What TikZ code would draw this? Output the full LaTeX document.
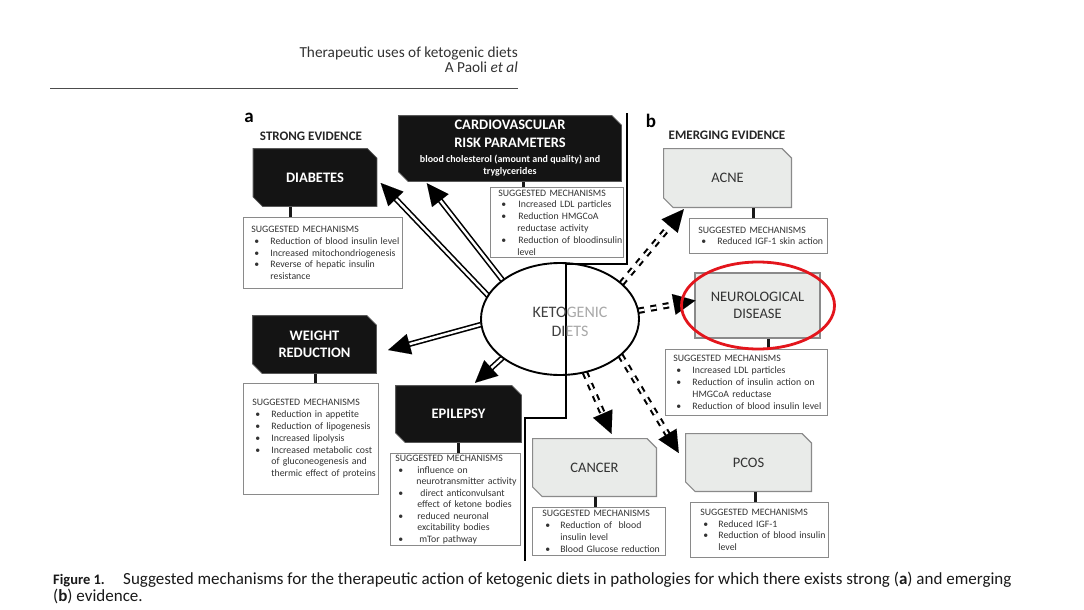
\documentclass[tikz,border=0pt]{standalone}
\usepackage{fontspec}
\setmainfont{Carlito}
\usetikzlibrary{shapes.geometric,arrows.meta,calc}
\definecolor{txt}{HTML}{333333}
\definecolor{boxgray}{HTML}{E9EBE9}
\definecolor{edgegray}{HTML}{8A8A8A}
\definecolor{redring}{HTML}{E3151C}
\definecolor{ketodark}{HTML}{404040}
\definecolor{ketolight}{HTML}{A8A8A8}
\newcommand\bu[2][19pt]{\makebox[#1][l]{\hspace*{3pt}\textbullet}\mbox{#2}}
\newcommand\ct[2][19pt]{\hspace*{#1}\mbox{#2}}
\newcommand\hd{\mbox{SUGGESTED MECHANISMS}}
\newcommand\karrow[3]{%
  \draw[#1] (#2) -- (#3);
  \draw[tiphead] ($(#3)!22pt!(#2)$) -- (#3);}
\tikzset{
  chpath/.style={insert path={([xshift=.6pt,yshift=-.6pt]path picture bounding box.north west) -- ([xshift=-#1,yshift=-.6pt]path picture bounding box.north east) -- ([xshift=-.6pt,yshift=-#1]path picture bounding box.north east) -- ([xshift=-.6pt,yshift=.6pt]path picture bounding box.south east) -- ([xshift=#1,yshift=.6pt]path picture bounding box.south west) -- ([xshift=.6pt,yshift=#1]path picture bounding box.south west) -- cycle}},
  darkbox/.style={inner sep=0pt, align=center, text=white, font=\fontsize{14.5}{17}\selectfont\bfseries,
    path picture={\filldraw[fill=black!92, draw=black!65, line width=.8pt, chpath=10pt];}},
  lightbox/.style={inner sep=0pt, align=center, text=txt, font=\fontsize{14.5}{17}\selectfont,
    path picture={\filldraw[fill=boxgray, draw=edgegray, line width=1.2pt, chpath=10pt];}},
  mech/.style={draw=edgegray, line width=.8pt, fill=white, anchor=north west, inner ysep=0pt,
    align=left, text=txt, font=\fontsize{9.8}{11.8}\selectfont},
  stub/.style={line width=3pt, draw=black!90},
  solidshaft/.style={draw=black, line width=1.6pt, double=white, double distance=2.4pt, shorten >=18pt},
  dashshaft/.style={draw=black, line width=2.1pt, double=white, double distance=2.2pt, dash pattern=on 6pt off 6.5pt, shorten >=15pt},
  tiphead/.style={-{Triangle[length=22pt,width=21pt]}, line width=0.01pt, draw=black},
  lbl/.style={inner sep=0pt, text=black!85, font=\fontsize{13}{15}\selectfont\bfseries},
}
\begin{document}
\begin{tikzpicture}[x=1pt,y=-1pt]
\fill[white] (0,0) rectangle (1084,610);
\useasboundingbox (0,0) rectangle (1084,610);

% header
\node[anchor=base east, inner sep=0, text=txt, font=\fontsize{15.3}{18}\selectfont] (hd1) at (518,58) {Therapeutic uses of ketogenic diets};
\node[anchor=base east, inner sep=0, text=txt, font=\fontsize{15.3}{18}\selectfont] (hd2) at (518,72) {A Paoli \textit{et al}};
\draw[line width=1pt, draw=black!70] (50,88) -- (hd2.east |- 0,88);

% panel labels
\node[inner sep=0, font=\fontsize{19}{20}\selectfont\bfseries] (la) at (249,118) {a};
\node[lbl] (se) at (311,136) {STRONG EVIDENCE};
\node[inner sep=0, font=\fontsize{19}{20}\selectfont\bfseries] (lb) at (651,121) {b};
\node[lbl] (ee) at (727,135) {EMERGING EVIDENCE};

% strong evidence boxes
\node[darkbox, minimum width=125pt, minimum height=59pt] (diab) at (315,177.5) {DIABETES};
\node[mech, inner xsep=8pt, text width=143pt, minimum height=71pt] (diabm) at (243,217)
 {\hd\\ \bu{Reduction of blood insulin level}\\ \bu{Increased mitochondriogenesis}\\ \bu{Reverse of hepatic insulin}\\ \ct{resistance}};
\draw[stub] ([xshift=-25pt]diab.south) -- ([xshift=-25pt]diab.south |- diabm.north);

\node[darkbox, minimum width=224pt, minimum height=67pt] (cardio) at (510,148.5)
 {CARDIOVASCULAR\\[1pt]RISK PARAMETERS\\[-2pt]{\fontsize{10}{12}\selectfont blood cholesterol (amount and quality) and}\\[-5pt]{\fontsize{10}{12}\selectfont tryglycerides}};
\node[mech, inner xsep=8pt, text width=117pt, minimum height=70pt] (cardiom) at (490,187)
 {\hd\\ \bu[20pt]{Increased LDL particles}\\ \bu[20pt]{Reduction HMGCoA}\\ \ct[19pt]{reductase activity}\\ \bu[20pt]{Reduction of bloodinsulin}\\ \ct[19pt]{level}};
\draw[stub] ([xshift=13pt]cardio.south) -- ([xshift=13pt]cardio.south |- cardiom.north);

\node[darkbox, minimum width=125pt, minimum height=59pt] (weight) at (314.5,344.5) {WEIGHT\\REDUCTION};
\node[mech, inner xsep=9pt, text width=117pt, minimum height=111pt] (weightm) at (243,383)
 {\hd\\ \bu{Reduction in appetite}\\ \bu{Reduction of lipogenesis}\\ \bu{Increased lipolysis}\\ \bu{Increased metabolic cost}\\ \ct{of gluconeogenesis and}\\ \ct{thermic effect of proteins}};
\draw[stub] ([xshift=1pt]weight.south) -- ([xshift=1pt]weight.south |- weightm.north);

\node[darkbox, minimum width=127pt, minimum height=58pt] (epi) at (458.5,414) {EPILEPSY};
\node[mech, inner xsep=5pt, text width=120pt, minimum height=92pt, font=\fontsize{9.8}{11.5}\selectfont] (epim) at (390,453)
 {\hd\\ \bu[22pt]{influence on}\\ \ct[21pt]{neurotransmitter activity}\\ \bu[25pt]{direct anticonvulsant}\\ \ct[22pt]{effect of ketone bodies}\\ \bu[22pt]{reduced neuronal}\\ \ct[22pt]{excitability bodies}\\ \bu[24pt]{mTor pathway}};
\draw[stub] (epi.south) -- (epi.south |- epim.north);

% emerging evidence boxes
\node[lightbox, minimum width=129pt, minimum height=60pt] (acne) at (727.5,178) {ACNE};
\node[mech, inner xsep=9pt, text width=120pt, minimum height=35pt] (acnem) at (689,218)
 {\hd\\ \bu{Reduced IGF-1 skin action}};
\draw[stub] ([xshift=25.5pt]acne.south) -- ([xshift=25.5pt]acne.south |- acnem.north);

\node[rectangle, draw=edgegray, fill=boxgray, line width=1.2pt, inner sep=0pt, align=center, text=txt, font=\fontsize{14.5}{17}\selectfont, minimum width=125pt, minimum height=65pt] (neuro) at (757.5,305.5) {NEUROLOGICAL\\DISEASE};
\node[mech, inner xsep=8pt, text width=146pt, minimum height=66pt] (neurom) at (665,349)
 {\hd\\ \bu{Increased LDL particles}\\ \bu{Reduction of insulin action on}\\ \ct{HMGCoA reductase}\\ \bu{Reduction of blood insulin level}};
\draw[stub] ([xshift=10.5pt]neuro.south) -- ([xshift=10.5pt]neuro.south |- neurom.north);

\node[lightbox, minimum width=125pt, minimum height=59pt] (cancer) at (594.5,467.5) {CANCER};
\node[mech, inner xsep=10pt, text width=113pt, minimum height=48pt] (cancerm) at (532,507)
 {\hd\\ \bu[18pt]{Reduction of~ blood}\\ \ct[18pt]{insulin level}\\ \bu[18pt]{Blood Glucose reduction}};
\draw[stub] ([xshift=0.5pt]cancer.south) -- ([xshift=0.5pt]cancer.south |- cancerm.north);

\node[lightbox, minimum width=127pt, minimum height=59pt] (pcos) at (748.5,462.5) {PCOS};
\node[mech, inner xsep=10pt, text width=118pt, minimum height=55pt] (pcosm) at (690,502)
 {\hd\\ \bu[18pt]{Reduced IGF-1}\\ \bu[18pt]{Reduction of blood insulin}\\ \ct[18pt]{level}};
\draw[stub] ([xshift=6.5pt]pcos.south) -- ([xshift=6.5pt]pcos.south |- pcosm.north);

% central node geometry
\coordinate (kdc) at (560,319);
\node[ellipse, minimum width=158pt, minimum height=112pt, inner sep=0pt] (kd) at (kdc) {};

% arrow tips
\coordinate (tdiab) at ($(diab.east)+(3,5.5)$);
\coordinate (tcardio) at ($(cardio.south west)+(29,1)$);
\coordinate (tweight) at ($(weight.east)+(11,5.5)$);
\coordinate (tepi) at ($(epi.north)+(16.5,-2)$);
\coordinate (tacne) at ($(acne.south west)+(21,1)$);
\coordinate (tneuro) at ($(neuro.west)+(1,-5)$);
\coordinate (tcancer) at ($(cancer.north)+(17,-4)$);
\coordinate (tpcos) at ($(pcos.west)+(-6,-9.5)$);

\karrow{solidshaft}{kd.162}{tdiab}
\karrow{solidshaft}{kd.146}{tcardio}
\karrow{solidshaft}{kd.184}{tweight}
\karrow{solidshaft}{kd.214}{tepi}
\karrow{dashshaft}{kd.30}{tacne}
\karrow{dashshaft}{kd.6}{tneuro}
\karrow{dashshaft}{kd.-65}{tcancer}
\karrow{dashshaft}{kd.-31}{tpcos}

% ellipse drawn over arrow starts
\node[ellipse, draw=black, line width=1.9pt, fill=white, minimum width=158pt, minimum height=112pt, inner sep=0pt] (kdo) at (kdc) {};

% divider between panels
\draw[line width=1.3pt] (627,113) -- (627,264) -- (566,264) -- (566,418) -- (525,418) -- (525,561);

\node[inner sep=0pt, align=center, font=\fontsize{16}{19.5}\selectfont] (kdtxt) at (570,322)
 {\textcolor{ketodark}{KETO}\textcolor{ketolight}{GENIC}\\\textcolor{ketodark}{DI}\textcolor{ketolight}{ETS}};

% highlight ring
\node[ellipse, draw=redring, line width=2.8pt, minimum width=153pt, minimum height=87pt, inner sep=0pt] (ring) at (758,305.5) {};

% caption
\node[anchor=base west, inner sep=0, text=black!90, font=\fontsize{14.5}{16}\selectfont\bfseries] (figlab) at (53,584) {Figure 1.};
\node[anchor=base west, inner sep=0, text=black!90, font=\fontsize{17}{19}\selectfont] (cap1) at (123,584) {Suggested mechanisms for the therapeutic action of ketogenic diets in pathologies for which there exists strong (\textbf{a}) and emerging};
\node[anchor=base west, inner sep=0, text=black!90, font=\fontsize{17}{19}\selectfont] (cap2) at (53,601) {(\textbf{b}) evidence.};
\end{tikzpicture}
\end{document}
